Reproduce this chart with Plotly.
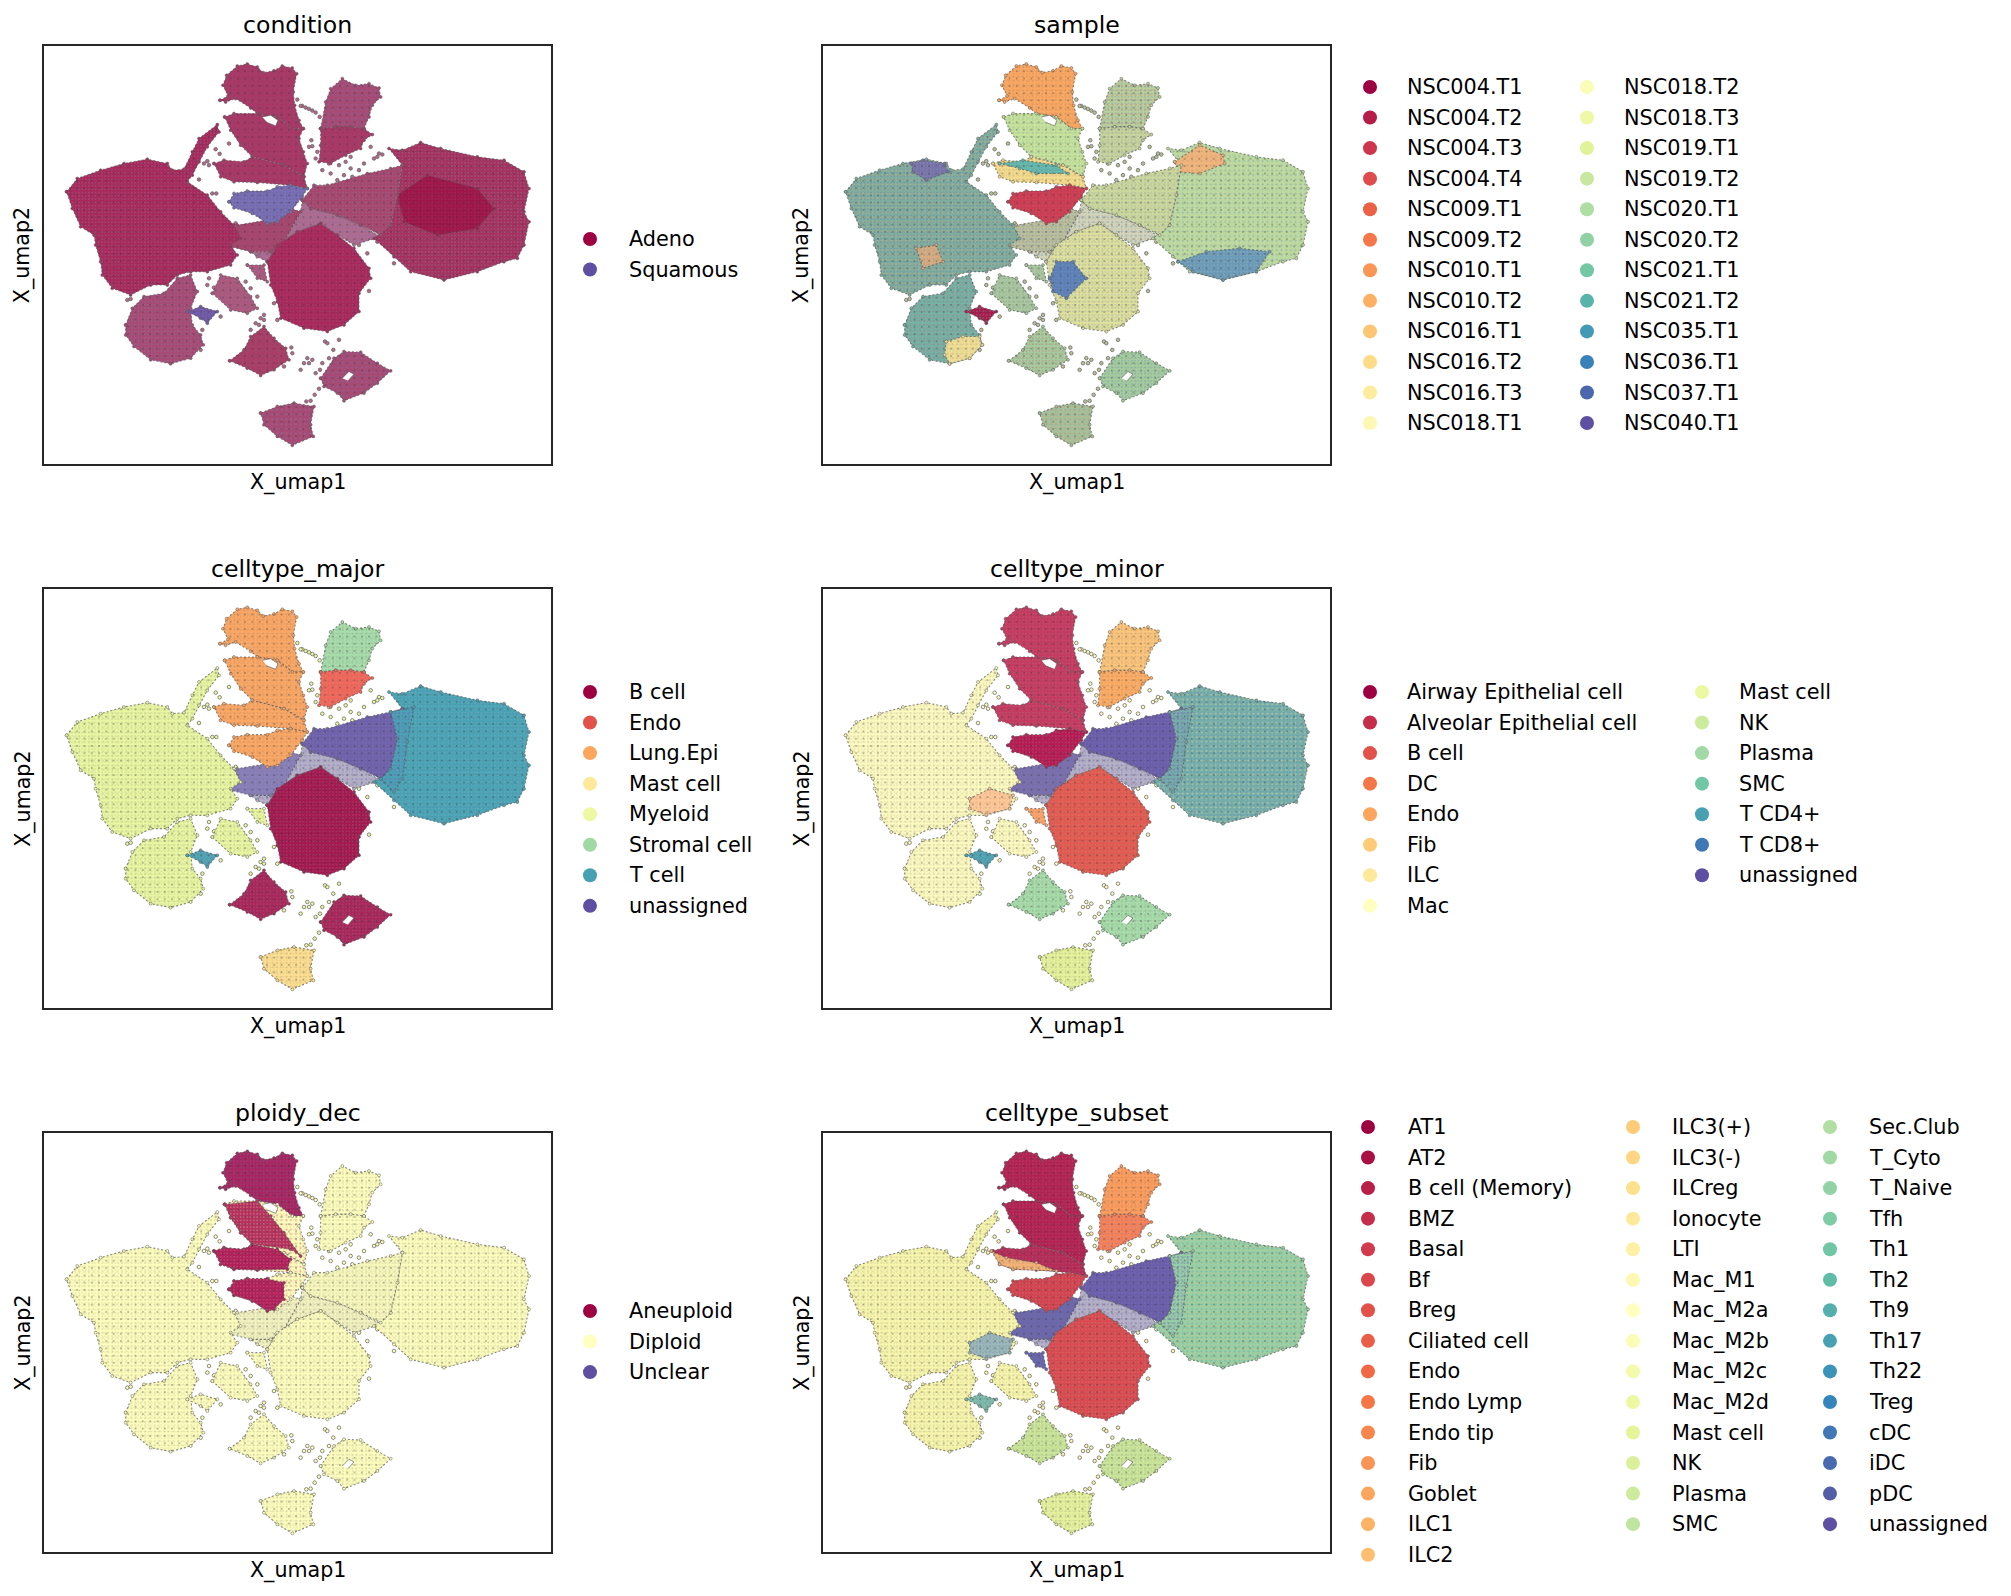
import plotly.graph_objects as go
from plotly.colors import sample_colorscale

# cluster outlines, as (umap1, umap2)
finger1 = [(528,155),(552,142),(537,110),(548,80),(580,52),(610,46),(640,55),(658,72),(690,66),(715,52),(745,58),(758,75),(748,130),(752,170),(765,215),(778,240),(745,240),(700,205),(640,195),(620,178),(575,150),(545,160)]
finger2 = [(542,205),(570,195),(640,195),(700,205),(745,240),(778,240),(765,270),(778,310),(790,345),(780,385),(720,350),(625,325),(590,290),(560,245)]
finger3 = [(510,345),(540,335),(600,340),(625,325),(720,350),(780,385),(790,420),(740,410),(640,402),(570,400),(530,385)]
finger4 = [(555,460),(570,435),(610,428),(670,428),(700,415),(740,410),(790,420),(775,445),(740,490),(700,520),(670,525),(625,495),(570,478)]
finger_hole = [(655,205),(680,200),(702,215),(695,232),(670,222)]
stroma = [(830,240),(845,160),(860,120),(895,90),(935,110),(975,105),(1005,118),(1010,145),(985,170),(975,205),(960,240),(920,235),(875,235)]
endo = [(830,240),(875,235),(920,235),(960,240),(985,258),(960,275),(950,300),(905,320),(860,345),(825,340),(830,290)]
myeloid = [(68,430),(100,390),(170,365),(240,345),(310,332),(370,345),(385,365),(420,362),(445,310),(465,270),(520,228),(525,250),(490,295),(465,340),(445,380),(430,400),(490,440),(530,490),(570,530),(590,570),(560,590),(580,620),(560,650),(490,670),(440,670),(400,680),(370,710),(320,710),(260,740),(205,720),(175,680),(170,640),(155,590),(150,560),(110,535),(85,480)]
myeloid_low = [(245,830),(265,780),(300,745),(360,735),(400,690),(440,680),(460,730),(440,780),(445,830),(470,860),(478,890),(440,930),(380,947),(320,935),(270,895),(245,860)]
myeloid_mid = [(505,735),(530,680),(580,690),(620,745),(640,780),(610,795),(560,785)]
myeloid_bit = [(610,650),(660,650),(670,700),(640,690)]
star = [(430,790),(470,775),(520,790),(490,825),(470,810)]
tcell = [(1075,350),(1035,300),(1075,305),(1130,282),(1190,300),(1300,325),(1380,335),(1440,370),(1455,420),(1440,490),(1455,520),(1440,590),(1420,630),(1380,640),(1300,670),(1200,695),(1100,670),(1050,625),(990,570),(1040,530),(1060,440)]
tcell_core = [(1060,440),(1150,380),(1300,420),(1350,480),(1300,540),(1180,560),(1080,520)]
fan = [(775,455),(810,410),(850,410),(970,375),(1040,360),(1075,350),(1060,440),(1040,530),(1010,560),(950,530),(880,500),(800,480)]
fan_blend = [(1040,360),(1110,345),(1090,450),(1075,560),(1050,600),(1010,560),(1040,530),(1060,440)]
hub = [(775,455),(800,480),(880,500),(950,530),(1010,565),(930,590),(880,560),(830,525),(760,550),(700,590),(670,640),(640,625),(620,610),(680,610),(720,580),(770,490)]
left_fan = [(510,580),(580,530),(700,510),(740,480),(770,490),(720,580),(680,610),(620,610),(560,595)]
left_core = [(440,620),(500,590),(570,610),(560,650),(490,668),(440,650)]
bcell = [(670,640),(700,590),(760,550),(830,525),(880,560),(930,600),(975,660),(980,690),(945,735),(945,790),(900,830),(850,850),(780,840),(710,810),(700,760),(680,710)]
small_b = [(557,938),(600,905),(620,865),(660,835),(690,870),(725,900),(735,935),(690,965),(650,982),(610,960)]
plasma = [(830,990),(870,930),(900,910),(950,912),(1000,945),(1040,968),(1000,1005),(960,1035),(900,1058),(880,1035),(840,1015)]
plasma_hole = [(895,990),(915,970),(930,978),(912,998)]
mast = [(650,1095),(700,1075),(750,1065),(810,1075),(800,1130),(808,1165),(745,1192),(700,1165),(660,1130)]

# patches only one panel colours differently
mye_top = [(265,345),(300,335),(365,345),(375,370),(310,395),(270,370)]
mye_warm = [(280,600),(340,590),(360,640),(300,660)]
low_warm = [(370,880),(420,865),(470,865),(478,890),(440,930),(380,947),(365,920)]
t_top = [(1055,340),(1130,290),(1200,320),(1205,345),(1130,375),(1065,370)]
t_blue = [(1065,640),(1150,610),(1250,600),(1340,610),(1300,670),(1200,695),(1110,670)]
b_blue = [(680,690),(700,640),(750,640),(790,690),(730,750),(690,730)]
f3_top = [(530,345),(600,335),(700,350),(735,375),(640,375),(590,360)]
f3_low = [(505,345),(530,385),(570,400),(700,405),(640,380),(550,365)]
f2_left = [(542,205),(640,195),(680,240),(720,290),(770,360),(740,340),(625,325),(590,290),(560,245)]
f3_left = [(510,345),(540,335),(600,340),(625,325),(700,340),(740,370),(730,400),(640,402),(570,400),(530,385)]
f4_left = [(555,460),(570,435),(610,428),(670,428),(720,440),(720,490),(690,520),(670,525),(625,495),(570,478)]

stray_x = [775,785,795,805,815,760,770,827,802,805,795,820,815,555,515,527,495,480,490,465,517,505,980,1005,1000,990,1015,960,920,945,920,905,885,855,835,860,900,925,880,930,935,1050,975,950,690,700,660,620,645,650,660,635,843,850,885,868,855,835,805,795,780,770,790,815,828,742,745,720,825,812,800,787,605,620,640,495,490,510,530,475,470,250,260,
           730,745,760,790,810,835,860,885,905,925,945,965,985,1000,720,700,680,655,630,600,575,560,640,665,690,715,740,770,800,830,860,895,920,945,970,905,880,855,825,795,770,745,715,690]
stray_y = [172,177,181,186,192,153,172,205,275,293,295,310,330,285,302,316,350,345,338,393,435,435,295,315,325,330,318,345,360,365,325,340,350,345,365,375,380,385,395,570,555,645,728,690,765,815,800,845,830,810,815,825,880,885,875,905,930,945,935,945,945,965,930,975,965,898,915,955,1022,1040,1058,1060,700,720,745,690,710,718,805,845,905,755,752,
           505,520,495,510,525,505,520,535,525,545,560,555,565,580,535,550,530,555,530,545,525,560,575,590,600,585,570,560,545,565,580,600,575,590,615,630,640,650,660,620,640,625,645,655]

titles = ["condition", "sample", "celltype_major", "celltype_minor", "ploidy_dec", "celltype_subset"]

condition_labels = ["Adeno", "Squamous"]
sample_labels = ["NSC004.T1", "NSC004.T2", "NSC004.T3", "NSC004.T4", "NSC009.T1", "NSC009.T2", "NSC010.T1", "NSC010.T2", "NSC016.T1", "NSC016.T2", "NSC016.T3", "NSC018.T1",
                 "NSC018.T2", "NSC018.T3", "NSC019.T1", "NSC019.T2", "NSC020.T1", "NSC020.T2", "NSC021.T1", "NSC021.T2", "NSC035.T1", "NSC036.T1", "NSC037.T1", "NSC040.T1"]
major_labels = ["B cell", "Endo", "Lung.Epi", "Mast cell", "Myeloid", "Stromal cell", "T cell", "unassigned"]
minor_labels = ["Airway Epithelial cell", "Alveolar Epithelial cell", "B cell", "DC", "Endo", "Fib", "ILC", "Mac",
                "Mast cell", "NK", "Plasma", "SMC", "T CD4+", "T CD8+", "unassigned"]
ploidy_labels = ["Aneuploid", "Diploid", "Unclear"]
subset_labels = ["AT1", "AT2", "B cell (Memory)", "BMZ", "Basal", "Bf", "Breg", "Ciliated cell", "Endo", "Endo Lymp", "Endo tip", "Fib", "Goblet", "ILC1", "ILC2",
                 "ILC3(+)", "ILC3(-)", "ILCreg", "Ionocyte", "LTI", "Mac_M1", "Mac_M2a", "Mac_M2b", "Mac_M2c", "Mac_M2d", "Mast cell", "NK", "Plasma", "SMC",
                 "Sec.Club", "T_Cyto", "T_Naive", "Tfh", "Th1", "Th2", "Th9", "Th17", "Th22", "Treg", "cDC", "iDC", "pDC", "unassigned"]

GRAY = "#5f5f5f"

# region -> fill, speck colour 1, speck colour 2, one list per panel
condition_fill = [
    (hub, "#b06c90", GRAY, "#7a6fb0"), (left_fan, "#a8466f", GRAY, GRAY), (bcell, "#a8285c", "#b5557f", GRAY),
    (tcell, "#a5305f", "#9a8fa8", GRAY), (tcell_core, "#9e1549", "#b03a68", GRAY), (fan, "#a8456f", "#8a8a9a", GRAY),
    (myeloid, "#a8285c", "#9a7fa0", GRAY), (myeloid_low, "#a84a74", "#8a80b0", GRAY), (myeloid_mid, "#ad5a80", GRAY, GRAY),
    (myeloid_bit, "#ad5a80", GRAY, GRAY), (star, "#6d5fae", "#a8285c", GRAY), (finger1, "#a83a68", GRAY, "#a8285c"),
    (finger2, "#a83a68", GRAY, "#a8285c"), (finger3, "#a83a68", GRAY, "#a8285c"), (finger4, "#7a70b5", "#5e4fa2", GRAY),
    (stroma, "#a84a74", GRAY, "#7a6fb0"), (endo, "#a83a68", GRAY, "#a8285c"), (small_b, "#a84068", GRAY, "#a8285c"),
    (plasma, "#a84a74", GRAY, "#7a6fb0"), (mast, "#a84a74", GRAY, "#8a80b0"),
]
sample_fill = [
    (hub, "#d4d4ba", GRAY, "#5f94bc"), (left_fan, "#bdbf9c", "#5f94bc", GRAY), (bcell, "#dfe09c", "#7a9fc5", GRAY),
    (b_blue, "#5d80b8", "#7a9fc5", GRAY), (tcell, "#b9d9a1", "#f0dc8c", "#6f8fb5"), (t_top, "#f0b27a", "#dfd08a", GRAY),
    (t_blue, "#6b9abb", "#a8c9a3", GRAY), (fan, "#cdd99c", "#8aa0bb", GRAY), (myeloid, "#7fae9f", "#4d71b0", "#f3a765"),
    (mye_top, "#7a72ad", "#7fae9f", GRAY), (mye_warm, "#d9ab80", "#7fae9f", GRAY), (myeloid_low, "#74b3a5", "#d0607a", GRAY),
    (low_warm, "#f3dd93", "#a7cfa0", GRAY), (myeloid_mid, "#a9c7a0", GRAY, GRAY), (myeloid_bit, "#a9c7a0", GRAY, GRAY),
    (star, "#a81a4d", "#7fae9f", GRAY), (finger1, "#fba862", GRAY, GRAY), (finger2, "#c8e29c", "#7fc0a8", GRAY),
    (finger3, "#f5dc8e", GRAY, GRAY), (f3_top, "#66b9ae", GRAY, GRAY), (finger4, "#cc3c55", "#e0604f", GRAY),
    (stroma, "#b9cf9b", "#5f94bc", "#d0607a"), (endo, "#c8d49c", "#8aa0bb", GRAY), (small_b, "#a6cc9e", "#d0607a", GRAY),
    (plasma, "#a6cc9e", "#5f94bc", GRAY), (mast, "#a3bf9c", "#f3a765", GRAY),
]
major_fill = [
    (hub, "#b5b1c8", GRAY, "#6f61ab"), (left_fan, "#8a80ba", GRAY, GRAY), (bcell, "#a3184f", "#b56a8c", GRAY),
    (tcell, "#4aa2b5", "#7fb8c2", GRAY), (fan, "#6f61ab", "#8a80ba", GRAY), (fan_blend, "#4aa2b5", "#6f61ab", "#6f61ab"),
    (myeloid, "#e9f6a2", GRAY, GRAY), (myeloid_low, "#e9f6a2", GRAY, GRAY), (myeloid_mid, "#e9f6a2", GRAY, GRAY),
    (myeloid_bit, "#e9f6a2", GRAY, GRAY), (star, "#52a5b6", GRAY, GRAY), (finger1, "#fca865", GRAY, GRAY),
    (finger2, "#fca865", GRAY, GRAY), (finger3, "#fca865", GRAY, GRAY), (finger4, "#fca865", GRAY, GRAY),
    (stroma, "#a8dcab", GRAY, GRAY), (endo, "#f0675a", "#e08a80", GRAY), (small_b, "#a8265a", "#b56a8c", GRAY),
    (plasma, "#a8265a", "#b56a8c", GRAY), (mast, "#fddf91", GRAY, GRAY),
]
minor_fill = [
    (hub, "#b5b1c8", GRAY, "#6f61ab"), (left_fan, "#7b70b0", GRAY, GRAY), (bcell, "#e25a50", "#d98a80", GRAY),
    (tcell, "#77aeaa", "#3f89ba", "#f5e08e"), (fan, "#6a5dab", "#8a80ba", GRAY), (fan_blend, "#77aeaa", "#6a5dab", "#6a5dab"),
    (myeloid, "#fdfac0", GRAY, GRAY), (left_core, "#fdc99a", "#fda46c", GRAY), (myeloid_low, "#fdfac0", GRAY, GRAY),
    (myeloid_mid, "#fdfac0", GRAY, GRAY), (myeloid_bit, "#fda46c", GRAY, GRAY), (star, "#52a5b6", GRAY, GRAY),
    (finger1, "#c43a60", "#c9708a", GRAY), (finger2, "#c43a60", "#c9708a", GRAY), (finger3, "#c43a60", "#c9708a", GRAY),
    (finger4, "#b51a52", "#c9708a", GRAY), (stroma, "#fcc57c", GRAY, GRAY), (endo, "#fdad65", GRAY, GRAY),
    (small_b, "#a8dcaa", GRAY, GRAY), (plasma, "#a8dcaa", GRAY, GRAY), (mast, "#e6f39c", GRAY, GRAY),
]
PALE = "#fdfdbd"
ploidy_fill = [
    (hub, "#f2f2c0", GRAY, GRAY), (left_fan, "#f2f2c0", GRAY, GRAY), (bcell, PALE, GRAY, GRAY), (tcell, PALE, GRAY, GRAY),
    (fan, "#f8f8bc", GRAY, GRAY), (myeloid, PALE, GRAY, GRAY), (myeloid_low, PALE, GRAY, GRAY), (myeloid_mid, PALE, GRAY, GRAY),
    (myeloid_bit, PALE, GRAY, GRAY), (star, PALE, GRAY, GRAY), (finger1, "#a9245f", "#7a6fb0", GRAY), (finger2, PALE, GRAY, "#d0507a"),
    (f2_left, "#b5305f", "#f3d0a0", GRAY), (finger3, PALE, GRAY, "#d0507a"), (f3_left, "#b0205a", "#e87a90", GRAY),
    (finger4, PALE, GRAY, "#d0507a"), (f4_left, "#b0205a", "#e87a90", GRAY), (stroma, PALE, GRAY, GRAY), (endo, PALE, GRAY, GRAY),
    (small_b, PALE, GRAY, GRAY), (plasma, PALE, GRAY, GRAY), (mast, PALE, GRAY, GRAY),
]
subset_fill = [
    (hub, "#b5b1c8", GRAY, "#6f61ab"), (left_fan, "#6d68ad", GRAY, GRAY), (bcell, "#d94a50", "#d98a80", GRAY),
    (tcell, "#97cfa6", "#fdb96f", "#4aa8a5"), (fan, "#6a5dab", "#8a80ba", GRAY), (fan_blend, "#97cfa6", "#6a5dab", "#6a5dab"),
    (myeloid, "#f8f6ac", GRAY, GRAY), (left_core, "#9db8b8", "#5f86c0", GRAY), (myeloid_low, "#f8f6ac", GRAY, GRAY),
    (myeloid_mid, "#f8f6ac", GRAY, GRAY), (myeloid_bit, "#6a68ad", GRAY, GRAY), (star, "#7fbcae", GRAY, GRAY),
    (finger1, "#b22152", "#c0607f", GRAY), (finger2, "#b22152", "#c0607f", GRAY), (finger3, "#b52b57", "#c0607f", GRAY),
    (f3_low, "#f5b277", GRAY, GRAY), (finger4, "#d3424f", "#d98a80", GRAY), (stroma, "#fd9d5e", GRAY, GRAY),
    (endo, "#fb8256", "#8a80ba", GRAY), (small_b, "#cbe69b", GRAY, GRAY), (plasma, "#cbe69b", GRAY, GRAY), (mast, "#e6f29e", GRAY, GRAY),
]

# pixel layout of the figure
WIDTH, HEIGHT = 2011, 1596
cols = [(44.3, 551), (823.3, 1330)]
rows = [(45.7, 464), (589, 1008), (1133, 1552)]
title_y = [25, 569, 1113]
X_RANGE = [1, 1521]
Y_RANGE = [1248, -9]

panels = [
    (0, 0, titles[0], condition_fill, "#b56a8c", [(590, 627, condition_labels)], 239, condition_labels),
    (0, 1, titles[1], sample_fill, "#b8c29a", [(1370, 1405, sample_labels[:12]), (1587, 1622, sample_labels[12:])], 87, sample_labels),
    (1, 0, titles[2], major_fill, "#e9f6a2", [(590, 627, major_labels)], 692, major_labels),
    (1, 1, titles[3], minor_fill, "#fdfac0", [(1370, 1405, minor_labels[:8]), (1702, 1737, minor_labels[8:])], 692, minor_labels),
    (2, 0, titles[4], ploidy_fill, PALE, [(590, 627, ploidy_labels)], 1311, ploidy_labels),
    (2, 1, titles[5], subset_fill, "#f8f6ac", [(1368, 1406, subset_labels[:15]), (1633, 1670, subset_labels[15:29]), (1830, 1867, subset_labels[29:])], 1127, subset_labels),
]

fig = go.Figure()
layout_axes = {}
notes = []
n = 1


def add_speck(xs, ys, ax, color, size, solidity, opacity):
    fig.add_trace(go.Scatter(x=xs, y=ys, xaxis="x" + ax, yaxis="y" + ax, mode="none", fill="toself",
                             fillpattern=dict(shape=".", size=size, solidity=solidity, fgcolor=color, fgopacity=opacity, bgcolor="rgba(0,0,0,0)"),
                             hoverinfo="skip", showlegend=False))


def add_region(points, fill, speck1, speck2, ax):
    xs = [p[0] for p in points] + [points[0][0]]
    ys = [p[1] for p in points] + [points[0][1]]
    fig.add_trace(go.Scatter(x=xs, y=ys, xaxis="x" + ax, yaxis="y" + ax, mode="lines+markers", fill="toself", fillcolor=fill,
                             line=dict(color="rgba(85,85,85,0.7)", width=1.1, dash="2px,2px"),
                             marker=dict(size=3, color=fill, line=dict(color=GRAY, width=0.5)),
                             hoverinfo="skip", showlegend=False))
    # plain gray specks stay faint, coloured ones carry the mix of categories
    add_speck(xs, ys, ax, speck1, 3.3, 0.2, 0.15 if speck1 == GRAY else 0.4)
    add_speck(xs, ys, ax, speck2, 4.7, 0.14, 0.2 if speck2 == GRAY else 0.5)
    add_speck(xs, ys, ax, "#2f2f2f", 7.3, 0.025, 0.8)


for row, col, title, fills, stray_color, legend_cols, legend_top, all_labels in panels:
    n += 1
    ax = str(n)
    left, right = cols[col]
    top, bottom = rows[row]
    layout_axes["xaxis" + ax] = dict(domain=[left / WIDTH, right / WIDTH], range=X_RANGE, showticklabels=False, ticks="", showgrid=False, zeroline=False,
                                     showline=True, mirror=True, linecolor="#262626", linewidth=2, anchor="y" + ax)
    layout_axes["yaxis" + ax] = dict(domain=[1 - bottom / HEIGHT, 1 - top / HEIGHT], range=Y_RANGE, showticklabels=False, ticks="", showgrid=False, zeroline=False,
                                     showline=True, mirror=True, linecolor="#262626", linewidth=2, anchor="x" + ax)
    # stray cells go first so the dense clusters sit over them
    fig.add_trace(go.Scatter(x=stray_x, y=stray_y, xaxis="x" + ax, yaxis="y" + ax, mode="markers",
                             marker=dict(size=3.6, color=stray_color, line=dict(color=GRAY, width=0.7)), hoverinfo="skip", showlegend=False))
    for points, fill, speck1, speck2 in fills:
        add_region(points, fill, speck1, speck2, ax)
    for hole in (finger_hole, plasma_hole):
        xs = [p[0] for p in hole]
        ys = [p[1] for p in hole]
        fig.add_trace(go.Scatter(x=xs, y=ys, xaxis="x" + ax, yaxis="y" + ax, mode="lines", fill="toself", fillcolor="white",
                                 line=dict(color="rgba(85,85,85,0.6)", width=1), hoverinfo="skip", showlegend=False))

    cx = (left + right) / 2
    notes.append(dict(x=cx, y=title_y[row], text=title, font_size=23.6))
    notes.append(dict(x=cx, y=bottom + 18, text="X_umap1", font_size=20.6))
    notes.append(dict(x=left - 21, y=(top + bottom) / 2, text="X_umap2", font_size=20.6, textangle=-90))

    colors = sample_colorscale("Spectral", [i / (len(all_labels) - 1) for i in range(len(all_labels))])
    colors = dict(zip(all_labels, colors))
    for dot_x, text_x, labels in legend_cols:
        ys = [legend_top + i * 30.55 for i in range(len(labels))]
        fig.add_trace(go.Scatter(x=[dot_x] * len(labels), y=ys, xaxis="x", yaxis="y", mode="markers",
                                 marker=dict(size=14, color=[colors[l] for l in labels]), hoverinfo="skip", showlegend=False))
        for label, y in zip(labels, ys):
            notes.append(dict(x=text_x, y=y, text=label, font_size=20.8, xanchor="left"))

annotations = []
for note in notes:
    annotations.append(dict(x=note["x"], y=note["y"], xref="x", yref="y", text=note["text"], showarrow=False,
                            xanchor=note.get("xanchor", "center"), yanchor="middle", textangle=note.get("textangle", 0),
                            font=dict(family="DejaVu Sans", size=note["font_size"], color="black")))

# the base axes span the whole page in pixels and only carry legends and labels
fig.update_layout(width=WIDTH, height=HEIGHT, margin=dict(l=0, r=0, t=0, b=0), paper_bgcolor="white", plot_bgcolor="rgba(0,0,0,0)",
                  showlegend=False, annotations=annotations,
                  xaxis=dict(domain=[0, 1], range=[0, WIDTH], visible=False, fixedrange=True),
                  yaxis=dict(domain=[0, 1], range=[HEIGHT, 0], visible=False, fixedrange=True),
                  **layout_axes)

fig.write_html("out.html", config={"displayModeBar": False}, post_script="document.body.style.margin = '0';")
